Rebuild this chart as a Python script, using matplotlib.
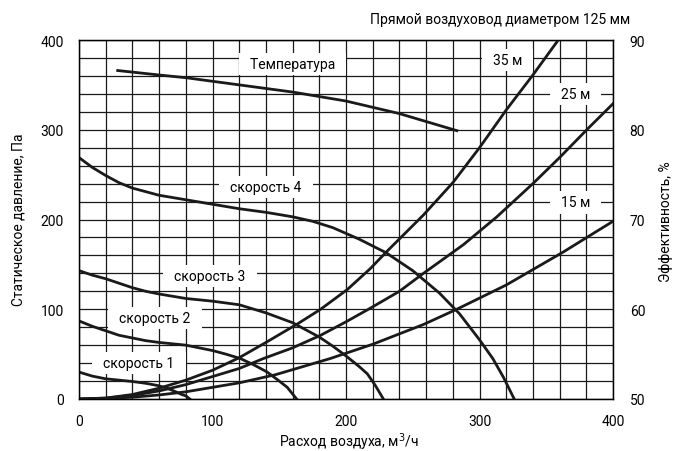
import matplotlib.pyplot as plt

plt.rcParams['font.family'] = ['Roboto', 'DejaVu Sans']

# Кривые вентилятора (расход, давление)
spd1_x = [0, 10, 20, 30, 40, 50, 59, 65, 71, 77, 80, 83]
spd1_y = [30, 25.5, 22.5, 21, 19.5, 17.5, 15, 12.5, 9, 5, 3.5, 0]
spd2_x = [0, 10, 20, 30, 40, 50, 60, 80, 100, 110, 121, 131, 141, 150, 156, 163]
spd2_y = [87, 81, 76, 71, 68, 65, 63, 60, 54, 50, 45, 38, 30, 20, 13, 0]
spd3_x = [0, 10, 20, 30, 40, 50, 60, 80, 100, 120, 140, 160, 180, 190, 200, 210, 216, 222, 228]
spd3_y = [143, 138, 134, 129, 124, 120, 117, 112, 109, 105, 96, 85, 69, 59, 48, 36, 28, 15, 0]
spd4_x = [0, 10, 20, 30, 40, 50, 60, 80, 100, 120, 140, 160, 175, 190, 210, 230, 250,
          270, 285, 300, 310, 318, 326]
spd4_y = [269, 258, 249, 241, 235, 231, 227, 222, 217, 212, 208, 203, 198, 191, 178, 163,
          143, 118, 95, 66, 45, 24, 0]

# Характеристики сети (прямой воздуховод 125 мм)
net35_x = [0, 20, 40, 60, 80, 100, 120, 140, 164, 181, 201, 218, 231, 258, 280, 300, 320, 340, 359]
net35_y = [0, 1, 5, 12, 21, 32, 46, 63, 84, 100, 122, 145, 165, 205, 241, 280, 322, 361, 400]
net25_x = [0, 20, 40, 60, 80, 100, 120, 138, 160, 181, 200, 218, 240, 258, 288, 313, 340, 360,
           381, 400]
net25_y = [0, 1, 4, 9, 16, 25, 34, 45, 57, 71, 86, 101, 120, 140, 172, 203, 240, 269, 301, 329]
net15_x = [0, 20, 40, 60, 80, 100, 120, 147, 188, 220, 258, 283, 320, 363, 388, 400]
net15_y = [0, 0.5, 2, 4.5, 8, 13, 18, 27, 45, 61, 83, 100, 127, 164, 187, 198]

# Температурная эффективность, %
temp_x = [29, 60, 80, 120, 160, 200, 240, 283]
temp_y = [86.6, 86.1, 85.8, 85.0, 84.2, 83.2, 81.8, 79.9]

x_ticks = [0, 100, 200, 300, 400]
y_ticks = [0, 100, 200, 300, 400]
eff_ticks = [50, 60, 70, 80, 90]

fig = plt.figure(figsize=(6.73, 4.52), dpi=100)
ax = fig.add_axes([79 / 673, 52 / 452, 534 / 673, 359 / 452])

ax.set_xlim(0, 400)
ax.set_ylim(0, 400)
ax.set_xticks(range(0, 401, 20), minor=True)
ax.set_yticks(range(0, 401, 20), minor=True)
ax.set_xticks(x_ticks)
ax.set_yticks(y_ticks)
ax.grid(which='both', color='#1a1a1a', linewidth=0.9)
ax.set_axisbelow(True)
ax.tick_params(which='both', length=0, labelsize=10, pad=11)
for s in ax.spines.values():
    s.set_linewidth(1.0)

lw = 2.0
for xs, ys in [(spd1_x, spd1_y), (spd2_x, spd2_y), (spd3_x, spd3_y), (spd4_x, spd4_y),
               (net35_x, net35_y), (net25_x, net25_y), (net15_x, net15_y)]:
    ax.plot(xs, ys, color='#1a1a1a', linewidth=lw, solid_joinstyle='round', zorder=3)

ax2 = ax.twinx()
ax2.set_ylim(50, 90)
ax2.set_yticks(eff_ticks)
ax2.tick_params(length=0, labelsize=10, pad=12)
ax2.plot(temp_x, temp_y, color='#1a1a1a', linewidth=lw, solid_joinstyle='round', zorder=3)

box = dict(facecolor='white', edgecolor='none', boxstyle='square,pad=0.3')
labels = [('  Температура  ', 160, 373), ('  скорость 4  ', 140, 236),
          ('  скорость 3  ', 98, 137), ('  скорость 2  ', 57, 90),
          ('  скорость 1  ', 45, 40), ('  35 м  ', 321, 378),
          ('  25 м  ', 372, 340), ('  15 м  ', 372, 219)]
for txt, lx, ly in labels:
    ax.text(lx, ly, txt, fontsize=10, ha='center', va='center', bbox=box, zorder=4)

# подписи осей и заголовок
fig.text(349 / 673, 1 - 442 / 452, 'Расход воздуха, м$^3$/ч', fontsize=10,
         ha='center', va='center')
fig.text(19 / 673, 1 - 220 / 452, 'Статическое давление, Па', fontsize=10,
         ha='center', va='center', rotation=90)
fig.text(666 / 673, 1 - 222 / 452, 'Эффективность, %', fontsize=10,
         ha='center', va='center', rotation=90)
fig.text(500 / 673, 1 - 20 / 452, 'Прямой воздуховод диаметром 125 мм',
         fontsize=10, ha='center', va='center')

plt.savefig('out.png', dpi=100)
